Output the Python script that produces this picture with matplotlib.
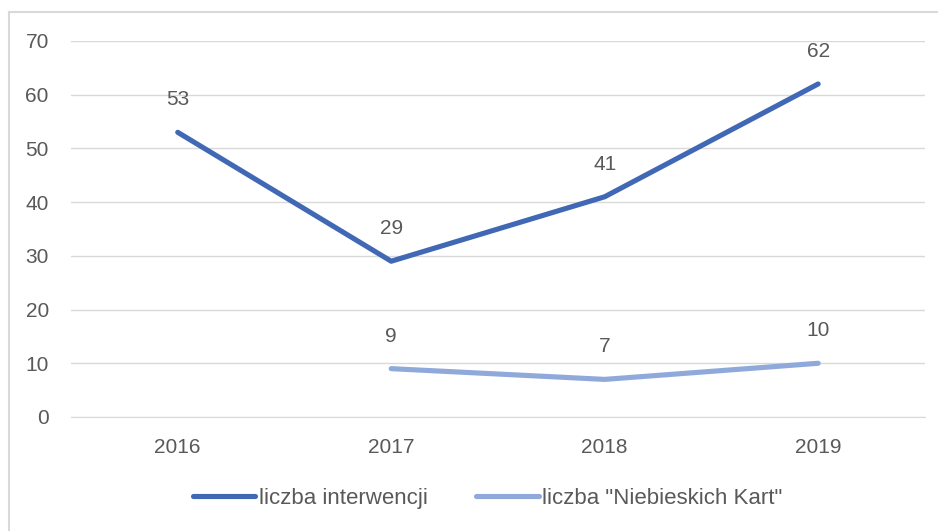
import matplotlib.pyplot as plt
from matplotlib.lines import Line2D

years = ["2016", "2017", "2018", "2019"]
interwencje = [53, 29, 41, 62]
niebieskie_x = [1, 2, 3]
niebieskie = [9, 7, 10]
yticks = [0, 10, 20, 30, 40, 50, 60, 70]

dark = "#4068B5"
light = "#8FA9DB"
txt = "#595959"

plt.rcParams['font.family'] = ['Liberation Sans', 'DejaVu Sans']

fig = plt.figure(figsize=(9.38, 5.31), dpi=100)
ax = fig.add_axes([0.0757, 0.2147, 0.9103, 0.7081])

xs = list(range(len(years)))
ax.plot(xs, interwencje, color=dark, lw=3.7, solid_capstyle='round', label="liczba interwencji")
ax.plot(niebieskie_x, niebieskie, color=light, lw=3.7, solid_capstyle='round', label='liczba "Niebieskich Kart"')

for x, v in zip(xs, interwencje):
    ax.annotate(str(v), (x, v), xytext=(0, 23.5), textcoords='offset points',
                ha='center', va='center', fontsize=15, color=txt)
for x, v in zip(niebieskie_x, niebieskie):
    ax.annotate(str(v), (x, v), xytext=(0, 23.5), textcoords='offset points',
                ha='center', va='center', fontsize=15, color=txt)

ax.set_xlim(-0.5, 3.5)
ax.set_ylim(0, 70)
ax.set_yticks(yticks)
ax.set_xticks(xs)
ax.set_xticklabels(years)
ax.grid(axis='y', color="#D9D9D9", lw=1)
ax.set_axisbelow(True)
for s in ['top', 'right', 'left']:
    ax.spines[s].set_visible(False)
ax.spines['bottom'].set_color("#D9D9D9")
ax.tick_params(length=0, labelsize=15, labelcolor=txt)
ax.tick_params(axis='x', pad=15)
ax.tick_params(axis='y', pad=16)

leg = fig.legend(loc='center', bbox_to_anchor=(0.52, 0.062), ncol=2, frameon=False,
                 fontsize=16, handlelength=2.8, handletextpad=0.15, columnspacing=2.2)
for t in leg.get_texts():
    t.set_color(txt)

# chart border (left and top visible)
fig.add_artist(Line2D([9/938, 9/938], [0, 1-12/531], transform=fig.transFigure, color="#D9D9D9", lw=1.5))
fig.add_artist(Line2D([9/938, 1], [1-12/531, 1-12/531], transform=fig.transFigure, color="#D9D9D9", lw=1.5))

fig.savefig("out.png", dpi=100, facecolor='white')
